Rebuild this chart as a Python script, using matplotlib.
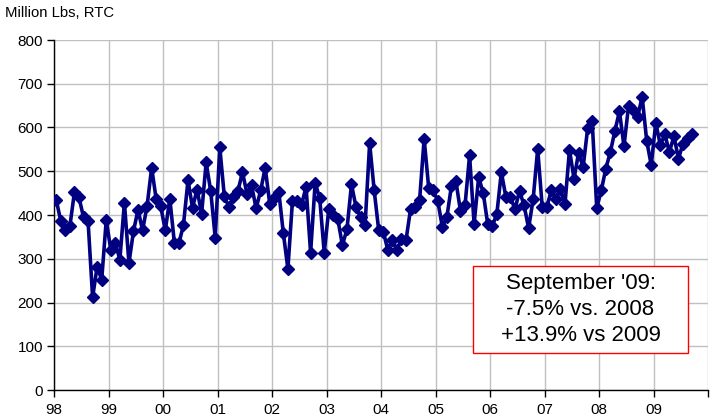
import numpy as np
import matplotlib
matplotlib.use("Agg")
import matplotlib.pyplot as plt
from matplotlib.patches import Rectangle

plt.rcParams['font.family'] = ['Liberation Sans', 'DejaVu Sans']

year_labels = ["98", "99", "00", "01", "02", "03", "04", "05", "06", "07", "08", "09"]
y_label = "Million Lbs, RTC"
note = "September '09:\n-7.5% vs. 2008\n+13.9% vs 2009"

v1998 = [434, 386, 365, 375, 452, 440, 395, 386, 212, 282, 252, 388]
v1999 = [321, 336, 298, 428, 290, 363, 412, 365, 421, 508, 436, 420]
v2000 = [365, 437, 337, 335, 377, 479, 417, 458, 403, 520, 455, 348]
v2001 = [555, 443, 418, 440, 455, 498, 448, 468, 415, 456, 508, 426]
v2002 = [439, 453, 358, 277, 432, 433, 423, 464, 314, 473, 439, 314]
v2003 = [413, 400, 390, 331, 367, 470, 418, 395, 378, 564, 456, 365]
v2004 = [362, 320, 342, 320, 345, 342, 413, 418, 434, 574, 462, 456]
v2005 = [432, 373, 395, 466, 477, 409, 422, 536, 380, 486, 451, 379]
v2006 = [375, 402, 498, 441, 441, 413, 455, 422, 370, 436, 551, 418]
v2007 = [418, 456, 436, 460, 424, 549, 483, 542, 509, 598, 615, 416]
v2008 = [456, 506, 544, 592, 637, 557, 649, 639, 624, 670, 570, 514]
v2009 = [611, 560, 584, 544, 580, 529, 563, 576, 584]

values = np.array(v1998 + v1999 + v2000 + v2001 + v2002 + v2003 + v2004
                  + v2005 + v2006 + v2007 + v2008 + v2009, dtype=float)
months = np.arange(len(values)) + 0.5

fig = plt.figure(figsize=(7.13, 4.19), dpi=100)
ax = fig.add_axes([54 / 713, 29 / 419, 654 / 713, 350 / 419])

ax.plot(months, values, color='#000080', linewidth=2.6, marker='D',
        markersize=6.5, markerfacecolor='#000080', markeredgecolor='#000080',
        zorder=3)

n_years = len(year_labels)
ax.set_xlim(0, 12 * n_years)
ax.set_ylim(0, 800)
ax.set_xticks(np.arange(0, 12 * n_years + 1, 12))
ax.set_xticklabels(year_labels + [""])
ax.set_yticks(np.arange(0, 801, 100))

ax.grid(True, color='#c0c0c0', linewidth=1.0, zorder=0)
ax.set_axisbelow(True)
for s in ['top', 'right']:
    ax.spines[s].set_visible(False)
for s in ['left', 'bottom']:
    ax.spines[s].set_color('black')
    ax.spines[s].set_linewidth(1.0)
ax.tick_params(axis='both', direction='out', length=5, width=1,
               labelsize=11, colors='black')
ax.tick_params(axis='x', pad=4)
ax.tick_params(axis='y', pad=3)

fig.text(5 / 713, 1 - 13 / 419, y_label, fontsize=10.7, ha='left', va='center')

# annotation box
box = Rectangle((473 / 713, 1 - 353 / 419), 215 / 713, 87 / 419,
                transform=fig.transFigure, facecolor='white',
                edgecolor='#ff0000', linewidth=1.0, zorder=5)
fig.patches.append(box)
fig.text(580.5 / 713, 1 - 309.5 / 419, note, fontsize=16, ha='center',
         va='center', linespacing=1.3, zorder=6)

fig.savefig("out.png", dpi=100)
